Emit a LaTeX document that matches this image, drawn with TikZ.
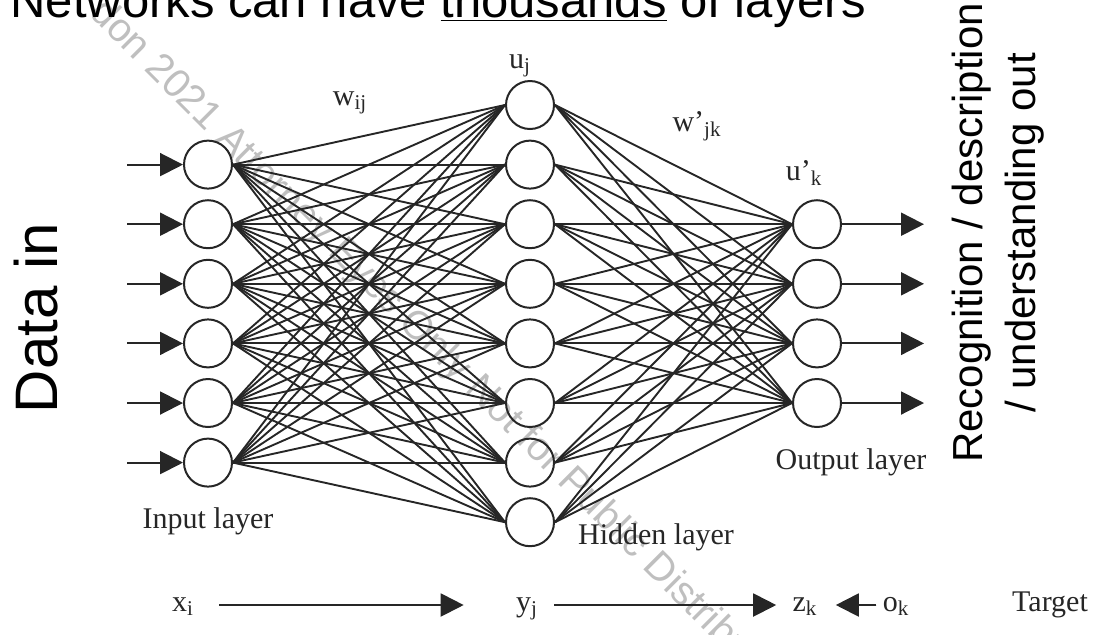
\documentclass[tikz,border=0pt]{standalone}
\usepackage{fontspec}
\setmainfont{Liberation Serif}
\setsansfont{Liberation Sans}
\usetikzlibrary{positioning,arrows.meta}
\tikzset{
  neuron/.style={circle,draw=black!85,line width=1pt,minimum size=24pt,inner sep=0pt},
  wire/.style={draw=black!85,line width=0.95pt},
  sig/.style={-{Triangle[length=11.5pt,width=11.5pt]},draw=black!85,fill=black!85,line width=1pt},
  lbl/.style={font=\fontsize{15}{17}\selectfont,text=black!85,inner sep=0pt},
  rowlbl/.style={lbl,text height=9pt,text depth=3pt},
}

\begin{document}
\begin{tikzpicture}[x=0.5pt,y=-0.5pt]
  \useasboundingbox (0,0) rectangle (1096,634);
  % watermark
  \node[rotate=-45,anchor=base west,inner sep=0pt,text=black!25,font=\sffamily\fontsize{20}{20}\selectfont] (wmark) at (88,14) {don 2021 Attorney Eyes Only Not for Public Distribution};
  % title
  \node[anchor=base west,inner sep=0pt,font=\sffamily\fontsize{24.5}{26}\selectfont] (title) at (10,17) {Networks can have \underline{thousands} of layers};
  % side texts
  \node[rotate=90,anchor=base,inner sep=0pt,font=\sffamily\fontsize{30}{30}\selectfont] (datain) at (57,318) {Data in};
  \node[rotate=90,align=center,inner sep=0pt,font=\sffamily\fontsize{21}{26.5}\selectfont] (recog) at (998,233) {Recognition / description\\/ understanding out};
  % layers
  \foreach \i in {1,...,6} \node[neuron] (in\i) at (208,{105+59.6*\i}) {};
  \foreach \j in {1,...,8} \node[neuron] (hid\j) at (530,{105+59.6*(\j-1)}) {};
  \foreach \k in {1,...,4} \node[neuron] (out\k) at (817,{105+59.6*(\k+1)}) {};
  % weights
  \foreach \i in {1,...,6} \foreach \j in {1,...,8} \draw[wire] (in\i.east) -- (hid\j.west);
  \foreach \j in {1,...,8} \foreach \k in {1,...,4} \draw[wire] (hid\j.east) -- (out\k.west);
  % inputs and outputs
  \foreach \i in {1,...,6} {
    \coordinate (feed\i) at (127,{105+59.6*\i});
    \draw[sig] (feed\i) -- (in\i);
  }
  \foreach \k in {1,...,4} {
    \coordinate (res\k) at (924,{105+59.6*(\k+1)});
    \draw[sig] (out\k) -- (res\k);
  }
  % labels
  \node[lbl] (wij) at (350,103) {w\textsubscript{ij}};
  \node[lbl] (uj) at (520,66) {u\textsubscript{j}};
  \node[lbl] (wjk) at (697,126) {w’\textsubscript{jk}};
  \node[lbl] (uk) at (804,173) {u’\textsubscript{k}};
  \node[lbl] (inlab) at (208,521) {Input layer};
  \node[lbl] (hidlab) at (656,537) {Hidden layer};
  \node[lbl] (outlab) at (851,462) {Output layer};
  % bottom row
  \node[rowlbl] (xi) at (183,605) {x\textsubscript{i}};
  \node[rowlbl] (yj) at (527,605) {y\textsubscript{j}};
  \node[rowlbl] (zk) at (805,605) {z\textsubscript{k}};
  \node[rowlbl] (ok) at (896,605) {o\textsubscript{k}};
  \node[rowlbl] (target) at (1050,605) {Target};
  \draw[sig,shorten <=12.5pt,shorten >=26pt] (xi) -- (yj);
  \draw[sig,shorten <=8pt,shorten >=8pt] (yj) -- (zk);
  \draw[sig,shorten <=3pt,shorten >=9pt] (ok) -- (zk);
\end{tikzpicture}
\end{document}
